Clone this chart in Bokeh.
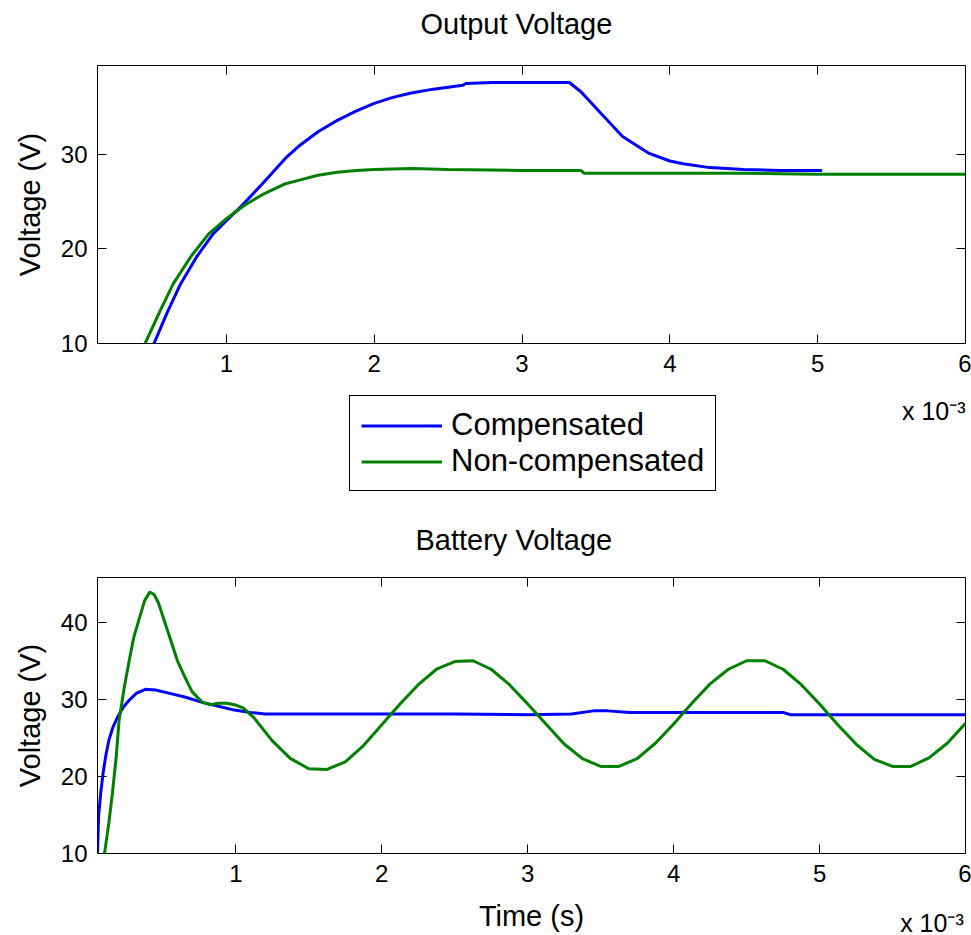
from bokeh.plotting import figure
from bokeh.layouts import column
from bokeh.models import Range1d, LinearAxis, FixedTicker, Legend, LegendItem
from bokeh.embed import file_html
from bokeh.resources import INLINE

FONT = "Liberation Sans"
BLUE = "#0000ff"
GREEN = "#008000"

# ---------------- data (time in ms, i.e. axis "x 10^-3" s) ----------------
# Output Voltage, Compensated
out_comp_t = [0.51, 0.60, 0.69, 0.80, 0.91, 1.00, 1.10, 1.25, 1.40, 1.50, 1.62, 1.75,
              1.88, 2.00, 2.12, 2.25, 2.40, 2.50, 2.60, 2.62, 2.80, 3.00, 3.20, 3.32,
              3.40, 3.53, 3.68, 3.86, 4.00, 4.09, 4.27, 4.50, 4.75, 5.03]
out_comp_v = [10.0, 13.3, 16.3, 19.2, 21.6, 23.0, 24.5, 27.0, 29.6, 31.0, 32.4, 33.6,
              34.6, 35.4, 36.0, 36.5, 36.9, 37.1, 37.3, 37.5, 37.6, 37.6, 37.6, 37.6,
              36.6, 34.4, 31.9, 30.1, 29.3, 29.0, 28.6, 28.4, 28.3, 28.3]
# Output Voltage, Non-compensated
out_non_t = [0.45, 0.55, 0.64, 0.76, 0.88, 1.00, 1.12, 1.25, 1.40, 1.50, 1.62, 1.75,
             1.88, 2.00, 2.25, 2.50, 3.00, 3.40, 3.42, 4.50, 5.00, 6.00]
out_non_v = [10.0, 13.4, 16.3, 19.2, 21.6, 23.2, 24.6, 25.8, 26.9, 27.3, 27.8, 28.1,
             28.3, 28.4, 28.5, 28.4, 28.3, 28.3, 28.0, 28.0, 27.9, 27.9]

# Battery Voltage, Compensated
bat_comp_t = [0.052, 0.06, 0.075, 0.09, 0.11, 0.13, 0.16, 0.19, 0.23, 0.27, 0.32, 0.38,
              0.45, 0.54, 0.65, 0.77, 0.88, 0.99, 1.10, 1.20, 1.50, 2.00, 2.50, 3.00,
              3.30, 3.45, 3.55, 3.70, 4.00, 4.50, 4.75, 4.80, 5.50, 6.00]
bat_comp_v = [10.0, 15.0, 18.0, 20.4, 22.8, 24.7, 26.5, 27.7, 29.0, 29.9, 30.8, 31.3,
              31.2, 30.8, 30.3, 29.6, 29.1, 28.6, 28.3, 28.1, 28.1, 28.1, 28.1, 28.0,
              28.1, 28.5, 28.5, 28.3, 28.3, 28.3, 28.3, 28.0, 28.0, 28.0]
# Battery Voltage, Non-compensated
bat_non_t = [0.10, 0.13, 0.154, 0.18, 0.20, 0.235, 0.27, 0.30, 0.34, 0.375, 0.41, 0.44,
             0.47, 0.51, 0.56, 0.60, 0.65, 0.70, 0.77, 0.83, 0.88, 0.94, 0.99, 1.05,
             1.125, 1.25, 1.375, 1.50, 1.625, 1.75, 1.875, 2.00, 2.125, 2.25, 2.375,
             2.50, 2.625, 2.75, 2.875, 3.00, 3.125, 3.25, 3.375, 3.50, 3.625, 3.75,
             3.875, 4.00, 4.125, 4.25, 4.375, 4.50, 4.625, 4.75, 4.875, 5.00, 5.125,
             5.25, 5.375, 5.50, 5.625, 5.75, 5.875, 6.00]
bat_non_v = [10.0, 14.0, 17.8, 22.5, 27.3, 31.5, 35.1, 38.0, 40.6, 42.8, 43.9, 43.6,
             42.5, 40.2, 37.3, 35.0, 32.9, 31.0, 29.6, 29.3, 29.5, 29.5, 29.3, 28.9,
             27.6, 24.6, 22.3, 21.0, 20.9, 21.9, 24.0, 26.7, 29.4, 31.9, 33.9,
             34.9, 35.0, 33.9, 31.9, 29.4, 26.8, 24.2, 22.3, 21.3, 21.3, 22.3,
             24.3, 26.8, 29.5, 32.0, 33.9, 35.0, 35.0, 33.9, 31.9, 29.4, 26.7,
             24.2, 22.2, 21.3, 21.3, 22.4, 24.3, 26.9]

x_ticks = [1, 2, 3, 4, 5, 6]
top_y_ticks = [10, 20, 30]
bot_y_ticks = [10, 20, 30, 40]
series_names = ["Compensated", "Non-compensated"]
titles = ["Output Voltage", "Battery Voltage"]
multiplier_text = "x 10\u207b\u00b3"


def style_title(t, offset, standoff):
    t.text_font = FONT
    t.text_font_size = "29px"
    t.text_font_style = "normal"
    t.text_color = "black"
    t.align = "left"
    t.vertical_align = "bottom"
    t.offset = offset
    t.standoff = standoff


def style_axes(p, xt, yt, fw, fh):
    xa = p.xaxis[0]
    ya = p.yaxis[0]
    xa.ticker = FixedTicker(ticks=xt)
    ya.ticker = FixedTicker(ticks=yt)
    for ax in (xa, ya):
        ax.major_tick_in = 0
        ax.major_tick_out = 0
        ax.minor_tick_in = 0
        ax.minor_tick_out = 0
        ax.minor_tick_line_color = None
        ax.axis_line_color = "black"
        ax.major_label_text_font = FONT
        ax.major_label_text_font_size = "24px"
        ax.major_label_text_color = "black"
        ax.axis_label_text_font = FONT
        ax.axis_label_text_font_size = "29px"
        ax.axis_label_text_font_style = "normal"
        ax.axis_label_text_color = "black"
    xa.major_label_standoff = 11
    ya.major_label_standoff = 10
    # inward tick marks on all four edges: only the two ends of each grid line are drawn
    p.xgrid.ticker = FixedTicker(ticks=xt)
    p.ygrid.ticker = FixedTicker(ticks=yt)
    p.xgrid.grid_line_color = "black"
    p.ygrid.grid_line_color = "black"
    p.xgrid.grid_line_width = 1
    p.ygrid.grid_line_width = 1
    p.xgrid.grid_line_dash = "9 %d" % (fh - 18)
    p.ygrid.grid_line_dash = "9 %d" % (fw - 18)
    p.outline_line_color = "black"
    p.outline_line_width = 1
    return xa, ya


# ---------------- title strip for the upper plot ----------------
head = figure(title=titles[0], frame_width=868, frame_height=1,
              min_border_left=97, min_border_right=6, min_border_top=44, min_border_bottom=0,
              x_range=Range1d(0, 1), y_range=Range1d(0, 1),
              x_axis_location=None, y_axis_location=None,
              output_backend="svg", toolbar_location=None)
head.outline_line_color = None
head.grid.visible = False
style_title(head.title, 323, 10)

# ---------------- top figure: Output Voltage ----------------
TW, TH = 868, 278
top = figure(frame_width=TW, frame_height=TH,
             min_border_left=97, min_border_right=6, min_border_top=20, min_border_bottom=52,
             x_range=Range1d(0.128, 6.0), y_range=Range1d(10, 39.4),
             output_backend="svg", toolbar_location=None)
top.line(out_comp_t, out_comp_v, line_color=BLUE, line_width=3)
top.line(out_non_t, out_non_v, line_color=GREEN, line_width=3)
txa, tya = style_axes(top, x_ticks, top_y_ticks, TW, TH)
tya.axis_label = "Voltage (V)"
tya.axis_label_standoff = 12

# ---------------- middle strip: legend and the upper plot's x-scale multiplier ----------------
SW, SH = 971, 105
strip = figure(frame_width=SW, frame_height=SH, min_border_left=0, min_border_right=0,
               min_border_top=0, min_border_bottom=0,
               x_range=Range1d(0, SW), y_range=Range1d(0, SH),
               x_axis_location=None, y_axis_location=None,
               output_backend="svg", toolbar_location=None)
strip.outline_line_color = None
strip.grid.visible = False
# hidden copies of the two series, used only as legend entries
lc = strip.line(out_comp_t, out_comp_v, line_color=BLUE, line_width=3, visible=False)
ln = strip.line(out_non_t, out_non_v, line_color=GREEN, line_width=3, visible=False)
legend = Legend(items=[LegendItem(label=series_names[0], renderers=[lc]),
                       LegendItem(label=series_names[1], renderers=[ln])],
                location=(349, 9))
legend.label_text_font = FONT
legend.label_text_font_size = "31px"
legend.label_text_color = "black"
legend.glyph_width = 81
legend.glyph_height = 35
legend.label_height = 35
legend.label_standoff = 9
legend.padding = 11
legend.spacing = 0
legend.margin = 0
legend.border_line_color = "black"
legend.border_line_alpha = 1.0
legend.border_line_width = 1
legend.background_fill_color = "white"
legend.background_fill_alpha = 1.0
legend.inactive_fill_alpha = 0.0
strip.add_layout(legend, "center")

# the upper plot's x-scale multiplier, shown as a glyph-less text entry
mh = strip.line(out_comp_t, out_comp_v, line_alpha=0.0, visible=False)
mult_legend = Legend(items=[LegendItem(label=multiplier_text, renderers=[mh])],
                     location=(902, 73))
mult_legend.label_text_font = FONT
mult_legend.label_text_font_size = "25px"
mult_legend.label_text_color = "black"
mult_legend.glyph_width = 0
mult_legend.glyph_height = 28
mult_legend.label_height = 28
mult_legend.label_standoff = 0
mult_legend.padding = 0
mult_legend.spacing = 0
mult_legend.margin = 0
mult_legend.border_line_color = None
mult_legend.background_fill_alpha = 0.0
mult_legend.inactive_fill_alpha = 0.0
strip.add_layout(mult_legend, "center")

# ---------------- bottom figure: Battery Voltage ----------------
BW, BH = 868, 276
bot = figure(title=titles[1], frame_width=BW, frame_height=BH,
             min_border_left=95, min_border_right=8, min_border_top=77, min_border_bottom=82,
             x_range=Range1d(0.052, 6.0), y_range=Range1d(10, 45.8),
             output_backend="svg", toolbar_location=None)
bot.line(bat_comp_t, bat_comp_v, line_color=BLUE, line_width=3)
bot.line(bat_non_t, bat_non_v, line_color=GREEN, line_width=3)
bxa, bya = style_axes(bot, x_ticks, bot_y_ticks, BW, BH)
bya.axis_label = "Voltage (V)"
bya.axis_label_standoff = 12
style_title(bot.title, 318, 43)

# second bottom axis: the x-scale multiplier at the right end, and "Time (s)" on the same row
mult_pos = 5.77
ma = LinearAxis(ticker=FixedTicker(ticks=[mult_pos], minor_ticks=[]),
                major_label_overrides={mult_pos: multiplier_text},
                major_tick_in=0, major_tick_out=0, minor_tick_in=0, minor_tick_out=0,
                axis_line_color=None, major_tick_line_color=None, minor_tick_line_color=None,
                major_label_standoff=24, major_label_text_font=FONT,
                major_label_text_font_size="25px", major_label_text_color="black",
                axis_label="Time (s)", axis_label_text_font=FONT,
                axis_label_text_font_size="29px", axis_label_text_font_style="normal",
                axis_label_text_color="black")
try:
    ma.axis_label_standoff = -40
except Exception:
    ma.axis_label_standoff = 0
bot.add_layout(ma, "below")

layout = column(head, top, strip, bot, spacing=0)
open("out.html", "w").write(file_html(layout, INLINE))
